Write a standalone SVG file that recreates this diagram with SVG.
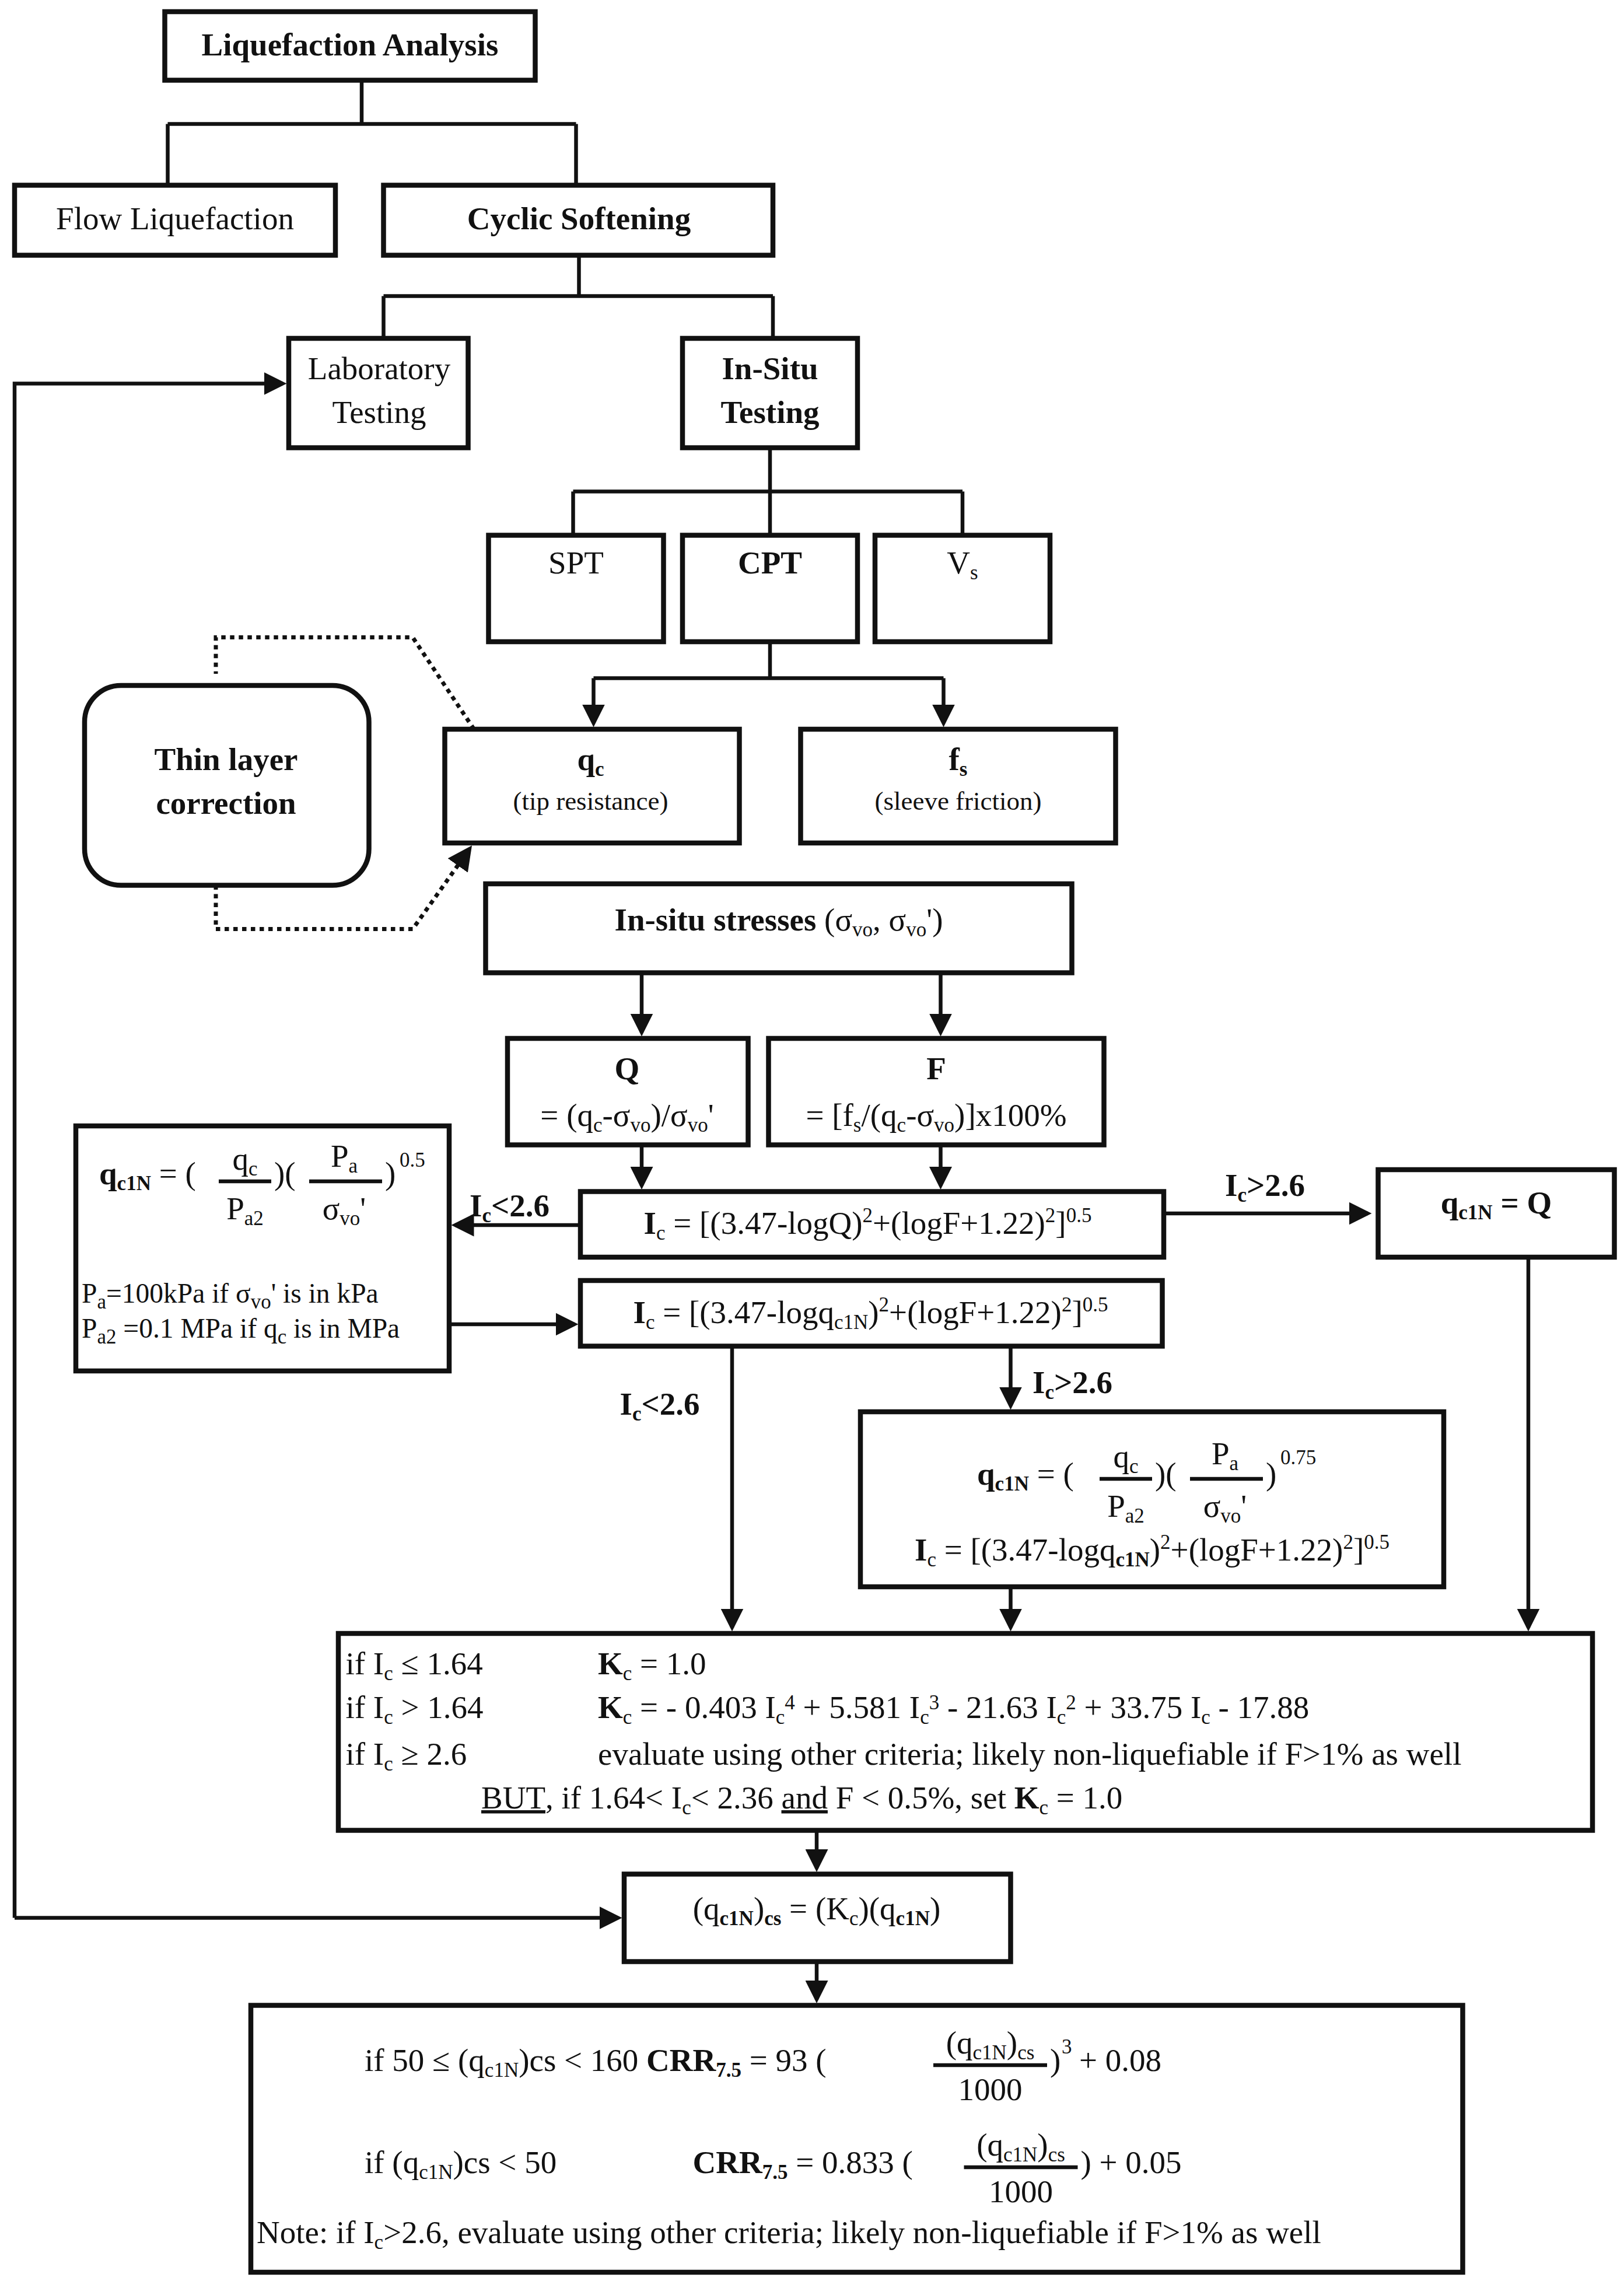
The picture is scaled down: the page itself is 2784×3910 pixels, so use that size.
<svg xmlns="http://www.w3.org/2000/svg" width="2784" height="3910" viewBox="0 0 2784 3910">
<style>
.b{fill:#fff;stroke:#111;stroke-width:3.4}
.c{fill:none;stroke:#111;stroke-width:2.6}
.d{fill:none;stroke:#111;stroke-width:2.8;stroke-dasharray:3 3}
text{font-family:"Liberation Serif","Times New Roman",serif;fill:#111;font-size:22px}
.t{font-weight:bold}
.m{text-anchor:middle}
.s{font-size:14px}
</style>
<defs><marker id="a" markerWidth="6" markerHeight="6" refX="5" refY="3" orient="auto" markerUnits="strokeWidth"><path d="M0,0 L6,3 L0,6 z" fill="#111"/></marker></defs>
<rect width="2784" height="3910" fill="#fff"/>
<g transform="scale(2.5)">
<g id="connectors">
<path class="c" d="M248,55V85M115,85H395M115,85V127M395,85V127"/>
<path class="c" d="M397,175V203M263,203H530M263,203V232M530,203V232"/>
<path class="c" d="M528,307V337M393,337H660M393,337V367M528,337V367M660,337V367"/>
<path class="c" d="M528,440V465M407,465H647"/>
<path class="c" marker-end="url(#a)" d="M407,465V496"/>
<path class="c" marker-end="url(#a)" d="M647,465V496"/>
<path class="d" d="M325,500L283,437H148V462"/>
<path class="d" marker-end="url(#a)" d="M148,607V637H283L322,582"/>
<path class="c" marker-end="url(#a)" d="M440,667V708"/>
<path class="c" marker-end="url(#a)" d="M645,667V708"/>
<path class="c" marker-end="url(#a)" d="M440,785V813"/>
<path class="c" marker-end="url(#a)" d="M645,785V813"/>
<path class="c" marker-end="url(#a)" d="M398,840H312"/>
<path class="c" marker-end="url(#a)" d="M798,832H938"/>
<path class="c" marker-end="url(#a)" d="M308,908H394"/>
<path class="c" marker-end="url(#a)" d="M502,923V1116"/>
<path class="c" marker-end="url(#a)" d="M693,923V964"/>
<path class="c" marker-end="url(#a)" d="M693,1088V1116"/>
<path class="c" marker-end="url(#a)" d="M1048,862V1116"/>
<path class="c" marker-end="url(#a)" d="M560,1255V1281"/>
<path class="c" marker-end="url(#a)" d="M10,1315H424"/>
<path class="c" marker-end="url(#a)" d="M10,1315V263H194"/>
<path class="c" marker-end="url(#a)" d="M560,1345V1371"/>
<text class="t" x="322" y="834">I<tspan class="s" dy="4">c</tspan><tspan dy="-4">&lt;2.6</tspan></text>
<text class="t" x="840" y="820">I<tspan class="s" dy="4">c</tspan><tspan dy="-4">&gt;2.6</tspan></text>
<text class="t" x="425" y="970">I<tspan class="s" dy="4">c</tspan><tspan dy="-4">&lt;2.6</tspan></text>
<text class="t" x="708" y="955">I<tspan class="s" dy="4">c</tspan><tspan dy="-4">&gt;2.6</tspan></text>
</g>
<g id="n1"><rect class="b" x="113" y="8" width="254" height="47"/><text class="t m" x="240" y="38">Liquefaction Analysis</text></g>
<g id="n2"><rect class="b" x="10" y="127" width="220" height="48"/><text class="m" x="120" y="157">Flow Liquefaction</text></g>
<g id="n3"><rect class="b" x="263" y="127" width="267" height="48"/><text class="t m" x="397" y="157">Cyclic Softening</text></g>
<g id="n4"><rect class="b" x="198" y="232" width="123" height="75"/><text class="m" x="260" y="260">Laboratory</text><text class="m" x="260" y="290">Testing</text></g>
<g id="n5"><rect class="b" x="468" y="232" width="120" height="75"/><text class="t m" x="528" y="260">In-Situ</text><text class="t m" x="528" y="290">Testing</text></g>
<g id="n6"><rect class="b" x="335" y="367" width="120" height="73"/><text class="m" x="395" y="393">SPT</text></g>
<g id="n7"><rect class="b" x="468" y="367" width="120" height="73"/><text class="t m" x="528" y="393">CPT</text></g>
<g id="n8"><rect class="b" x="600" y="367" width="120" height="73"/><text class="m" x="660" y="393">V<tspan class="s" dy="4">s</tspan></text></g>
<g id="n9"><rect class="b" x="58" y="470" width="195" height="137" rx="25"/><text class="t m" x="155" y="528">Thin layer</text><text class="t m" x="155" y="558">correction</text></g>
<g id="n10"><rect class="b" x="305" y="500" width="202" height="78"/><text class="t m" x="405" y="528">q<tspan class="s" dy="4">c</tspan></text><text class="m" x="405" y="555" style="font-size:18px">(tip resistance)</text></g>
<g id="n11"><rect class="b" x="549" y="500" width="216" height="78"/><text class="t m" x="657" y="528">f<tspan class="s" dy="4">s</tspan></text><text class="m" x="657" y="555" style="font-size:18px">(sleeve friction)</text></g>
<g id="n12"><rect class="b" x="333" y="606" width="402" height="61"/><text class="m" x="534" y="638"><tspan class="t">In-situ stresses </tspan>(σ<tspan class="s" dy="4">vo</tspan><tspan dy="-4">, σ</tspan><tspan class="s" dy="4">vo</tspan><tspan dy="-4">')</tspan></text></g>
<g id="n13"><rect class="b" x="348" y="712" width="165" height="73"/><text class="t m" x="430" y="740">Q</text><text class="m" x="430" y="772">= (q<tspan class="s" dy="4">c</tspan><tspan dy="-4">-σ</tspan><tspan class="s" dy="4">vo</tspan><tspan dy="-4">)/σ</tspan><tspan class="s" dy="4">vo</tspan><tspan dy="-4">'</tspan></text></g>
<g id="n14"><rect class="b" x="527" y="712" width="230" height="73"/><text class="t m" x="642" y="740">F</text><text class="m" x="642" y="772">= [f<tspan class="s" dy="4">s</tspan><tspan dy="-4">/(q</tspan><tspan class="s" dy="4">c</tspan><tspan dy="-4">-σ</tspan><tspan class="s" dy="4">vo</tspan><tspan dy="-4">)]x100%</tspan></text></g>
<g id="n15"><rect class="b" x="398" y="817" width="400" height="45"/><text class="m" x="595" y="846"><tspan class="t">I</tspan><tspan class="s" dy="4">c</tspan><tspan dy="-4"> = [(3.47-logQ)</tspan><tspan class="s" dy="-8">2</tspan><tspan dy="8">+(logF+1.22)</tspan><tspan class="s" dy="-8">2</tspan><tspan dy="8">]</tspan><tspan class="s" dy="-8">0.5</tspan></text></g>
<g id="n16"><rect class="b" x="945" y="802" width="162" height="60"/><text class="t m" x="1026" y="832">q<tspan class="s" dy="4">c1N</tspan><tspan dy="-4"> = Q</tspan></text></g>
<g id="n17"><rect class="b" x="52" y="772" width="256" height="168"/>
<text x="68" y="812"><tspan class="t">q</tspan><tspan class="s t" dy="4">c1N</tspan><tspan dy="-4"> = (</tspan></text>
<text class="m" x="168" y="802">q<tspan class="s" dy="4">c</tspan></text><path class="c" stroke-width="1.5" d="M150,810H186"/><text class="m" x="168" y="836">P<tspan class="s" dy="4">a2</tspan></text>
<text x="188" y="812">)(</text>
<text class="m" x="236" y="800">P<tspan class="s" dy="4">a</tspan></text><path class="c" stroke-width="1.5" d="M212,810H262"/><text class="m" x="236" y="836">σ<tspan class="s" dy="4">vo</tspan><tspan dy="-4">'</tspan></text>
<text x="264" y="812">)</text><text class="s" x="274" y="800">0.5</text>
<text x="56" y="893" style="font-size:19px">P<tspan class="s" dy="4">a</tspan><tspan dy="-4">=100kPa if σ</tspan><tspan class="s" dy="4">vo</tspan><tspan dy="-4">' is in kPa</tspan></text>
<text x="56" y="917" style="font-size:19px">P<tspan class="s" dy="4">a2</tspan><tspan dy="-4"> =0.1 MPa if q</tspan><tspan class="s" dy="4">c</tspan><tspan dy="-4"> is in MPa</tspan></text></g>
<g id="n18"><rect class="b" x="398" y="878" width="399" height="45"/><text class="m" x="597" y="907"><tspan class="t">I</tspan><tspan class="s" dy="4">c</tspan><tspan dy="-4"> = [(3.47-logq</tspan><tspan class="s" dy="4">c1N</tspan><tspan dy="-4">)</tspan><tspan class="s" dy="-8">2</tspan><tspan dy="8">+(logF+1.22)</tspan><tspan class="s" dy="-8">2</tspan><tspan dy="8">]</tspan><tspan class="s" dy="-8">0.5</tspan></text></g>
<g id="n19"><rect class="b" x="590" y="968" width="400" height="120"/>
<text x="670" y="1018"><tspan class="t">q</tspan><tspan class="s t" dy="4">c1N</tspan><tspan dy="-4"> = (</tspan></text>
<text class="m" x="772" y="1006">q<tspan class="s" dy="4">c</tspan></text><path class="c" stroke-width="1.5" d="M754,1014H790"/><text class="m" x="772" y="1040">P<tspan class="s" dy="4">a2</tspan></text>
<text x="792" y="1018">)(</text>
<text class="m" x="840" y="1004">P<tspan class="s" dy="4">a</tspan></text><path class="c" stroke-width="1.5" d="M816,1014H866"/><text class="m" x="840" y="1040">σ<tspan class="s" dy="4">vo</tspan><tspan dy="-4">'</tspan></text>
<text x="868" y="1018">)</text><text class="s" x="878" y="1004">0.75</text>
<text class="m" x="790" y="1070"><tspan class="t">I</tspan><tspan class="s" dy="4">c</tspan><tspan dy="-4"> = [(3.47-logq</tspan><tspan class="s t" dy="4">c1N</tspan><tspan dy="-4">)</tspan><tspan class="s" dy="-8">2</tspan><tspan dy="8">+(logF+1.22)</tspan><tspan class="s" dy="-8">2</tspan><tspan dy="8">]</tspan><tspan class="s" dy="-8">0.5</tspan></text></g>
<g id="n20"><rect class="b" x="232" y="1120" width="860" height="135"/>
<text x="237" y="1148">if I<tspan class="s" dy="4">c</tspan><tspan dy="-4"> ≤ 1.64</tspan></text><text x="410" y="1148"><tspan class="t">K</tspan><tspan class="s" dy="4">c</tspan><tspan dy="-4"> = 1.0</tspan></text>
<text x="237" y="1178">if I<tspan class="s" dy="4">c</tspan><tspan dy="-4"> &gt; 1.64</tspan></text><text x="410" y="1178"><tspan class="t">K</tspan><tspan class="s" dy="4">c</tspan><tspan dy="-4"> = - 0.403 I</tspan><tspan class="s" dy="4">c</tspan><tspan class="s" dy="-10">4</tspan><tspan dy="6"> + 5.581 I</tspan><tspan class="s" dy="4">c</tspan><tspan class="s" dy="-10">3</tspan><tspan dy="6"> - 21.63 I</tspan><tspan class="s" dy="4">c</tspan><tspan class="s" dy="-10">2</tspan><tspan dy="6">  + 33.75 I</tspan><tspan class="s" dy="4">c</tspan><tspan dy="-4"> - 17.88</tspan></text>
<text x="237" y="1210">if I<tspan class="s" dy="4">c</tspan><tspan dy="-4"> ≥ 2.6</tspan></text><text x="410" y="1210">evaluate using other criteria; likely non-liquefiable if F&gt;1% as well</text>
<text x="330" y="1240"><tspan text-decoration="underline">BUT</tspan>, if 1.64&lt; I<tspan class="s" dy="4">c</tspan><tspan dy="-4">&lt; 2.36 </tspan><tspan text-decoration="underline">and</tspan> F &lt; 0.5%, set <tspan class="t">K</tspan><tspan class="s" dy="4">c</tspan><tspan dy="-4"> = 1.0</tspan></text></g>
<g id="n21"><rect class="b" x="428" y="1285" width="265" height="60"/><text class="m" x="560" y="1316">(q<tspan class="s t" dy="4">c1N</tspan><tspan dy="-4">)</tspan><tspan class="s t" dy="4">cs</tspan><tspan dy="-4"> = (K</tspan><tspan class="s" dy="4">c</tspan><tspan dy="-4">)(q</tspan><tspan class="s t" dy="4">c1N</tspan><tspan dy="-4">)</tspan></text></g>
<g id="n22"><rect class="b" x="172" y="1375" width="831" height="183"/>
<text x="250" y="1420">if 50 ≤ (q<tspan class="s" dy="4">c1N</tspan><tspan dy="-4">)cs &lt; 160  </tspan><tspan class="t">CRR</tspan><tspan class="s t" dy="4">7.5</tspan><tspan dy="-4">  =  93  (</tspan></text>
<text class="m" x="679" y="1408">(q<tspan class="s" dy="4">c1N</tspan><tspan dy="-4">)</tspan><tspan class="s" dy="4">cs</tspan></text><path class="c" stroke-width="1.5" d="M640,1416H718"/><text class="m" x="679" y="1440">1000</text>
<text x="720" y="1420">)</text><text class="s" x="728" y="1408">3</text><text x="740" y="1420"> +  0.08</text>
<text x="250" y="1490">if (q<tspan class="s" dy="4">c1N</tspan><tspan dy="-4">)cs &lt; 50</tspan></text><text x="475" y="1490"><tspan class="t">CRR</tspan><tspan class="s t" dy="4">7.5</tspan><tspan dy="-4">  =  0.833  (</tspan></text>
<text class="m" x="700" y="1478">(q<tspan class="s" dy="4">c1N</tspan><tspan dy="-4">)</tspan><tspan class="s" dy="4">cs</tspan></text><path class="c" stroke-width="1.5" d="M661,1486H739"/><text class="m" x="700" y="1510">1000</text>
<text x="741" y="1490">)  +  0.05</text>
<text x="176" y="1538">Note: if I<tspan class="s" dy="4">c</tspan><tspan dy="-4">&gt;2.6, evaluate using other criteria; likely non-liquefiable if F&gt;1% as well</tspan></text></g>
</g>
</svg>
